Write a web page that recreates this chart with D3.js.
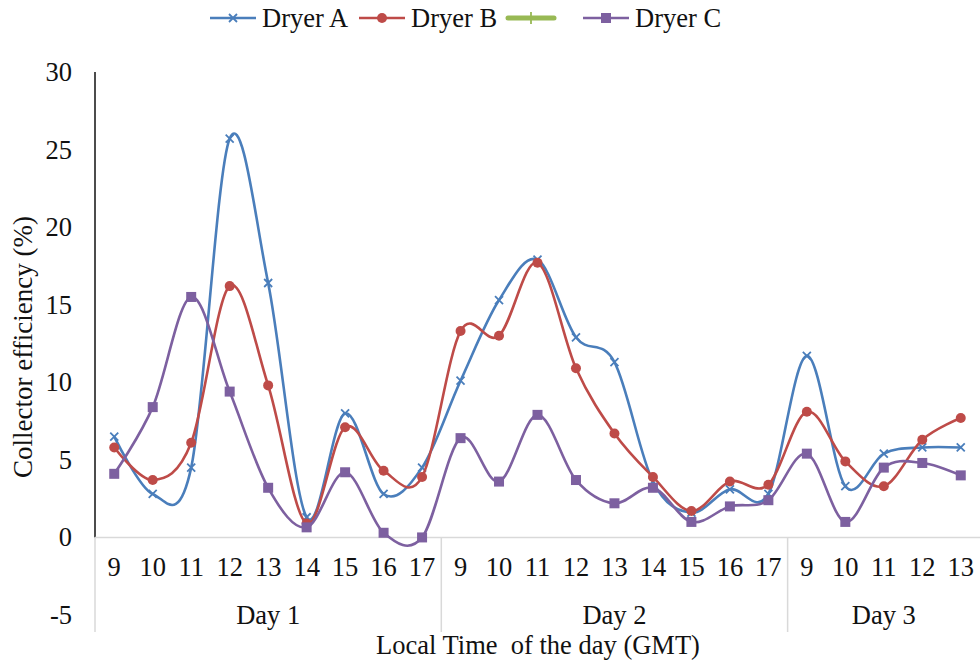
<!DOCTYPE html>
<html><head><meta charset="utf-8">
<script src="https://cdn.jsdelivr.net/npm/d3@7"></script>
<style>body{margin:0;background:#fff}svg text{font-family:'Liberation Serif','Times New Roman','DejaVu Serif',serif !important}</style>
</head><body><svg id="c" width="980" height="660" font-family="Liberation Serif"></svg>
<script>
const days = ["Day 1","Day 2","Day 3"];
const hoursPerDay = [[9,10,11,12,13,14,15,16,17],[9,10,11,12,13,14,15,16,17],[9,10,11,12,13]];
const dryerA = [6.5,2.8,4.5,25.7,16.4,1.3,8.0,2.8,4.5, 10.1,15.3,17.9,12.9,11.3,3.6,1.6,3.1,2.8, 11.7,3.3,5.4,5.8,5.8];
const dryerB = [5.8,3.7,6.1,16.2,9.8,0.9,7.1,4.3,3.9, 13.3,13.0,17.7,10.9,6.7,3.9,1.7,3.6,3.4, 8.1,4.9,3.3,6.3,7.7];
const dryerC = [4.1,8.4,15.5,9.4,3.2,0.65,4.2,0.3,0.0, 6.4,3.6,7.9,3.7,2.2,3.2,1.0,2.0,2.4, 5.4,1.0,4.5,4.8,4.0];
const yTicks = [-5,0,5,10,15,20,25,30];
const seriesNames = ["Dryer A","Dryer B","","Dryer C"];

const FONT = "'Liberation Serif','Times New Roman',serif";
const FS = 26.5;
const hours = hoursPerDay.flat();
const idx = hours.map((_,i)=>i);
const svg = d3.select("#c");
const x = d3.scaleBand().domain(idx).range([95,980]);
const y = d3.scaleLinear().domain([-5,30]).range([615,72]);
const cx = i => x(i)+x.bandwidth()/2;
const grid = "#d9d9d9";

// y axis labels
const ya = svg.append("g").attr("transform","translate(95,0)")
  .call(d3.axisLeft(y).tickValues(yTicks).tickSize(0).tickPadding(23).tickFormat(d=>d));
ya.attr("font-family",FONT);
ya.select(".domain").remove();
ya.selectAll("text").attr("font-size",FS).attr("fill","#111").style("font-family",FONT);
svg.append("line").attr("x1",95).attr("x2",95).attr("y1",y(30)).attr("y2",y(0)).attr("stroke","#111").attr("stroke-width",1.5);

// category axis
svg.append("line").attr("x1",95).attr("x2",980).attr("y1",y(0)).attr("y2",y(0)).attr("stroke",grid).attr("stroke-width",1.5);
let start=0; const sepX=[95];
hoursPerDay.forEach(h=>{start+=h.length; sepX.push(start<hours.length? x(start): 980);});
sepX.slice(0,3).forEach(sx=>{
  svg.append("line").attr("x1",sx).attr("x2",sx).attr("y1",y(0)).attr("y2",632).attr("stroke",grid).attr("stroke-width",1.5);
});
const xa = svg.append("g").attr("transform",`translate(0,${y(0)})`)
  .call(d3.axisBottom(x).tickSize(0).tickPadding(20).tickFormat(i=>hours[i]));
xa.attr("font-family",FONT);
xa.select(".domain").remove();
xa.selectAll("text").attr("font-size",FS).attr("fill","#111").style("font-family",FONT);

let s2=0;
days.forEach((d,k)=>{
  const a=s2, b=s2+hoursPerDay[k].length-1; s2+=hoursPerDay[k].length;
  svg.append("text").attr("x",(cx(a)+cx(b))/2).attr("y",624).attr("text-anchor","middle")
    .attr("font-size",FS).attr("fill","#111").style("font-family",FONT).text(d);
});
svg.append("text").attr("x",538).attr("y",654).attr("text-anchor","middle").attr("font-size",FS).attr("fill","#111").style("font-family",FONT).style("white-space","pre").text("Local Time  of the day (GMT)");
svg.append("text").attr("transform","translate(32,347) rotate(-90)").attr("text-anchor","middle").attr("font-size",27).attr("fill","#111").style("font-family",FONT).text("Collector efficiency (%)");

const colors = ["#4a7ebb","#be4b48","#98b954","#7d60a0"];
const line = d3.line().x((d,i)=>cx(i)).y(d=>y(d)).curve(d3.curveCatmullRom.alpha(0));

function marker(g, type, col, px, py){
  if(type===0){
    const s=4;
    g.append("path").attr("d",`M${px-s},${py-s}L${px+s},${py+s}M${px-s},${py+s}L${px+s},${py-s}`).attr("stroke",col).attr("stroke-width",1.8).attr("fill","none");
  } else if(type===1){
    g.append("circle").attr("cx",px).attr("cy",py).attr("r",5).attr("fill",col);
  } else if(type===3){
    g.append("rect").attr("x",px-5).attr("y",py-5).attr("width",10).attr("height",10).attr("fill",col);
  } else if(type===2){
    g.append("line").attr("x1",px).attr("x2",px).attr("y1",py-6).attr("y2",py+6).attr("stroke",col).attr("stroke-width",1.8);
  }
}

[[dryerA,0],[dryerB,1],[dryerC,3]].forEach(([data,t])=>{
  const g=svg.append("g");
  g.append("path").attr("d",line(data)).attr("fill","none").attr("stroke",colors[t]).attr("stroke-width",2.6);
  data.forEach((v,i)=>marker(g,t,colors[t],cx(i),y(v)));
});

// legend
const legX=[210,359,508,583];
seriesNames.forEach((n,k)=>{
  const g=svg.append("g");
  const lx=legX[k], ly=18;
  g.append("line").attr("x1",lx).attr("x2",lx+46).attr("y1",ly).attr("y2",ly).attr("stroke",colors[k]).attr("stroke-width",k===2?5:2.6).attr("stroke-linecap",k===2?"round":"butt");
  marker(g,k,colors[k],lx+23,ly);
  if(n) g.append("text").attr("x",lx+52).attr("y",ly+9).attr("font-size",FS).attr("fill","#111").style("font-family",FONT).text(n);
});
</script></body></html>
